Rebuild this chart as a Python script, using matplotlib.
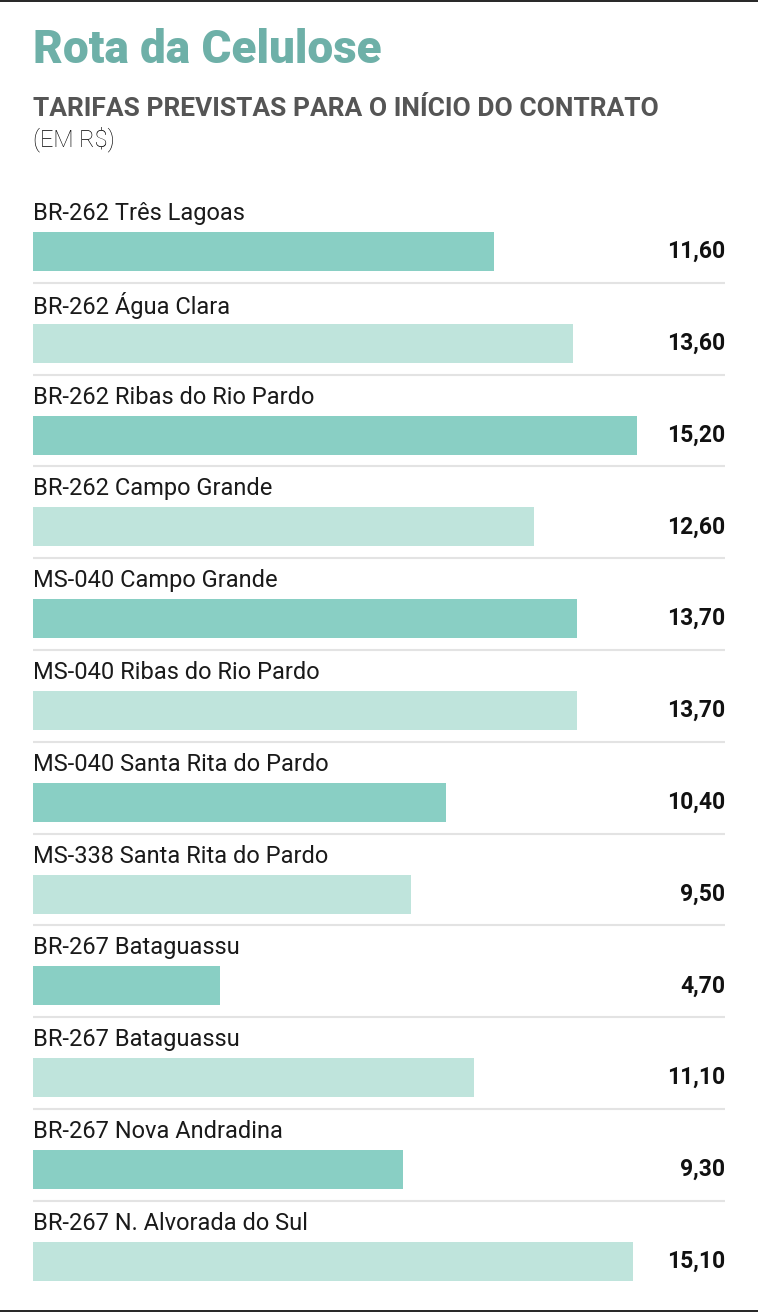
import matplotlib
matplotlib.use("Agg")
import matplotlib.pyplot as plt
from matplotlib.lines import Line2D

plt.rcParams['font.family'] = ['Roboto', 'DejaVu Sans']

# dados
trechos = ["BR-262 Três Lagoas", "BR-262 Água Clara", "BR-262 Ribas do Rio Pardo",
           "BR-262 Campo Grande", "MS-040 Campo Grande", "MS-040 Ribas do Rio Pardo",
           "MS-040 Santa Rita do Pardo", "MS-338 Santa Rita do Pardo", "BR-267 Bataguassu",
           "BR-267 Bataguassu", "BR-267 Nova Andradina", "BR-267 N. Alvorada do Sul"]
tarifas = [11.60, 13.60, 15.20, 12.60, 13.70, 13.70, 10.40, 9.50, 4.70, 11.10, 9.30, 15.10]
rotulos = ["11,60", "13,60", "15,20", "12,60", "13,70", "13,70",
           "10,40", "9,50", "4,70", "11,10", "9,30", "15,10"]

escuro = "#89cfc4"
claro = "#bfe4dc"

W, H = 758, 1313
fig = plt.figure(figsize=(W / 100, H / 100), dpi=100)

pitch = 91.8  # px por linha
y0 = 251.5    # centro da primeira barra em px
ytop, ybot = -1.0, 11.5
ax = fig.add_axes([33 / W, 1 - (y0 + pitch * ybot) / H,
                   692 / W, (ybot - ytop) * pitch / H])
xmax = 692 / 39.74
ax.set_xlim(0, xmax)
ax.set_ylim(ybot, ytop)
ax.axis("off")

cores = [escuro if i % 2 == 0 else claro for i in range(len(tarifas))]
ax.barh(range(len(tarifas)), tarifas, height=0.425, color=cores, align="center")

for i, (t, r) in enumerate(zip(trechos, rotulos)):
    ax.text(0, i - 0.415, t, ha="left", va="center", fontsize=17, color="#1a1a1a")
    ax.text(xmax, i, r, ha="right", va="center", fontsize=16.5,
            fontweight="bold", color="#111111")
    if i < len(tarifas) - 1:
        ax.hlines(i + 0.34, 0, xmax, color="#e3e3e3", lw=1.5)

fig.text(33 / W, 1 - 63 / H, "Rota da Celulose", fontsize=33, fontweight="black",
         color="#6eb0a8", ha="left", va="baseline")
fig.text(33 / W, 1 - 116 / H, "TARIFAS PREVISTAS PARA O INÍCIO DO CONTRATO",
         fontsize=19, fontweight="bold", color="#555555", ha="left", va="baseline")
fig.text(33 / W, 1 - 146 / H, "(EM R$)", fontsize=17, fontweight="light",
         color="#000000", ha="left", va="baseline")

fig.add_artist(Line2D([0, 1], [1 - 0.8 / H, 1 - 0.8 / H], color="black", lw=1.2))
fig.add_artist(Line2D([0, 1], [1 - 1311 / H, 1 - 1311 / H], color="black", lw=1.2))

fig.savefig("out.png", dpi=100)
